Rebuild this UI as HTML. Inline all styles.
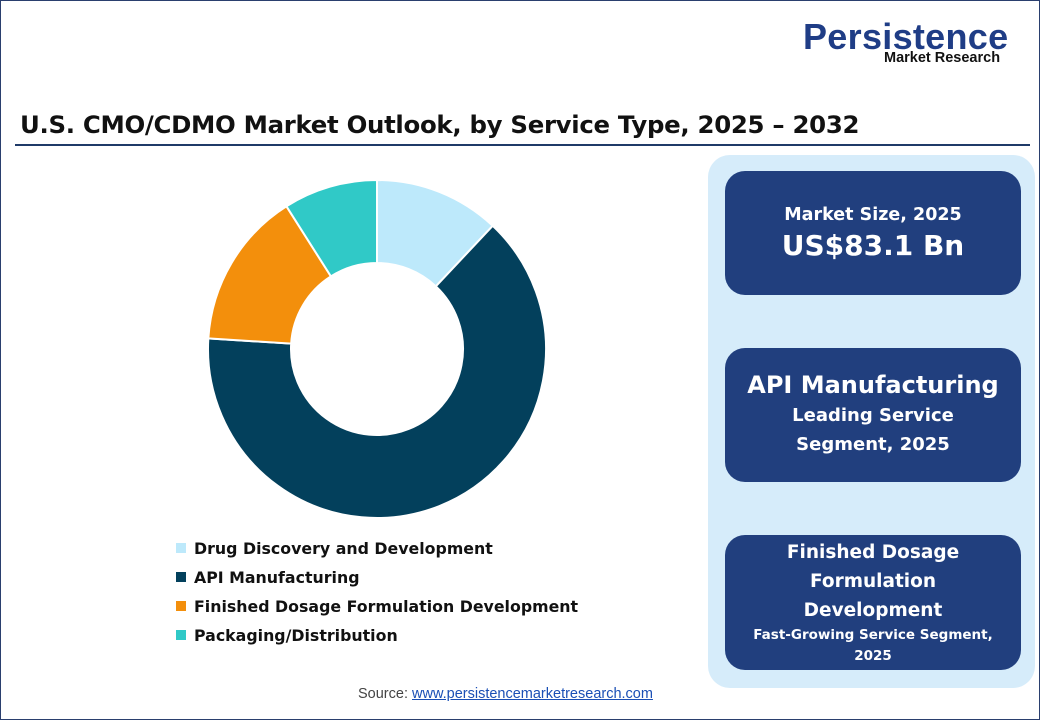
<!DOCTYPE html>
<html><head><meta charset="utf-8"><style>
body{margin:0;width:1040px;height:720px;background:#fff;font-family:"Liberation Sans","DejaVu Sans",sans-serif;position:relative;overflow:hidden}
.frame{position:absolute;left:0;top:0;width:1038px;height:718px;border:1px solid #2a3f6e}
.title{position:absolute;left:20px;top:110px;font-size:24.4px;font-weight:bold;color:#111;font-family:"DejaVu Sans",sans-serif;letter-spacing:-0.3px}
.rule{position:absolute;left:15px;top:144px;width:1015px;height:2px;background:#1f3a68}
.logo1{position:absolute;left:803px;top:16px;font-size:36px;font-weight:bold;color:#1f3d86;letter-spacing:0.3px}
.logo2{position:absolute;left:884px;top:50px;font-size:14.5px;font-weight:bold;color:#111}
.panel{position:absolute;left:708px;top:155px;width:327px;height:533px;background:#d6ecfa;border-radius:22px}
.box{position:absolute;left:725px;width:296px;background:#213f7e;border-radius:20px;color:#fff;text-align:center;font-weight:bold;font-family:"DejaVu Sans",sans-serif;display:flex;flex-direction:column;justify-content:center}
.leg{position:absolute;left:176px;font-size:15.8px;font-weight:bold;color:#111;font-family:"DejaVu Sans",sans-serif}
.leg span{display:inline-block;width:10px;height:10px;margin-right:8px;vertical-align:1px}
.src{position:absolute;left:358px;top:686px;font-size:14.5px;color:#444}
.src a{color:#1a4fb5;text-decoration:underline}
</style></head><body>
<div class="frame"></div>
<div class="logo1">Persistence</div>
<div class="logo2">Market Research</div>
<div class="title">U.S. CMO/CDMO Market Outlook, by Service Type, 2025 – 2032</div>
<div class="rule"></div>
<svg id="chart" width="1040" height="720" style="position:absolute;left:0;top:0"></svg>
<div class="leg" style="top:539px"><span style="background:#bde9fb"></span>Drug Discovery and Development</div>
<div class="leg" style="top:568px"><span style="background:#03405c"></span>API Manufacturing</div>
<div class="leg" style="top:597px"><span style="background:#f38f0c"></span>Finished Dosage Formulation Development</div>
<div class="leg" style="top:626px"><span style="background:#30c9c7"></span>Packaging/Distribution</div>
<div class="panel"></div>
<div class="box" style="top:171px;height:124px"><div style="font-size:17.5px">Market Size, 2025</div><div style="font-size:28px;margin-top:4px">US$83.1 Bn</div></div>
<div class="box" style="top:348px;height:134px"><div style="font-size:24px">API Manufacturing</div><div style="font-size:18px;line-height:29px;margin-top:2px">Leading Service<br>Segment, 2025</div></div>
<div class="box" style="top:535px;height:135px"><div style="font-size:18.5px;line-height:29px">Finished Dosage<br>Formulation<br>Development</div><div style="font-size:13.5px;line-height:21px">Fast-Growing Service Segment,<br>2025</div></div>
<div class="src">Source: <a>www.persistencemarketresearch.com</a></div>
<script>
const categories=["Drug Discovery and Development","API Manufacturing","Finished Dosage Formulation Development","Packaging/Distribution"];
const values=[12,64,15,9];
const colors=["#bde9fb","#03405c","#f38f0c","#30c9c7"];
const svg=document.getElementById('chart');
const cx=377,cy=349,R=169,r=86;
const total=values.reduce((a,b)=>a+b,0);
function pt(a,rad){return [cx+rad*Math.sin(a),cy-rad*Math.cos(a)];}
let a0=0;
values.forEach((v,i)=>{
  const a1=a0+v/total*2*Math.PI;
  const large=(a1-a0)>Math.PI?1:0;
  const [x1,y1]=pt(a0,R),[x2,y2]=pt(a1,R),[x3,y3]=pt(a1,r),[x4,y4]=pt(a0,r);
  const p=document.createElementNS('http://www.w3.org/2000/svg','path');
  p.setAttribute('d',`M${x1},${y1}A${R},${R} 0 ${large} 1 ${x2},${y2}L${x3},${y3}A${r},${r} 0 ${large} 0 ${x4},${y4}Z`);
  p.setAttribute('fill',colors[i]);
  p.setAttribute('stroke','#fff');
  p.setAttribute('stroke-width','2');
  
  
  svg.appendChild(p);
  a0=a1;
});
</script>
</body></html>
